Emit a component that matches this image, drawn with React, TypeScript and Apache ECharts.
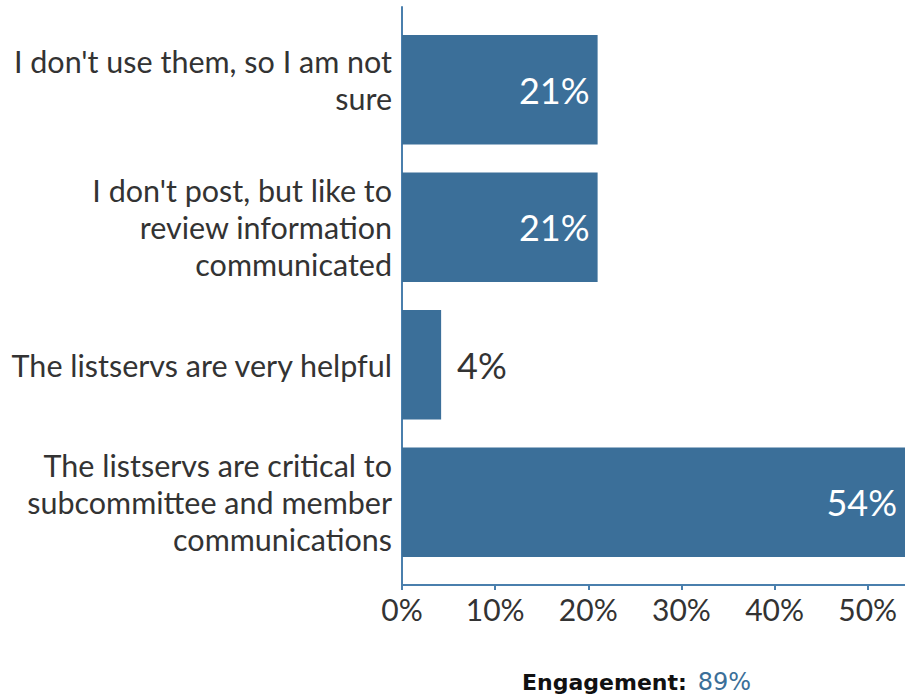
import React, { useEffect, useRef } from "react";
import * as echarts from "echarts";

const categories = [
  "I don't use them, so I am not\nsure",
  "I don't post, but like to\nreview information\ncommunicated",
  "The listservs are very helpful",
  "The listservs are critical to\nsubcommittee and member\ncommunications",
];
const values = [21, 21, 4.2, 54];
const valueLabels = ["21%", "21%", "4%", "54%"];
const tickValues = [0, 10, 20, 30, 40, 50];
const engagementLabel = "Engagement:";
const engagementValue = "89%";

const BLUE = "#3b6f99";
const AXIS = "#4a7fad";
const TEXT = "#333333";
const FONT = "Lato";

export default function App() {
  const ref = useRef<HTMLDivElement>(null);
  useEffect(() => {
    if (!ref.current) return;
    document.body.style.margin = "0";
    const chart = echarts.init(ref.current, undefined, { renderer: "svg" });
    chart.setOption({
      animation: false,
      grid: [
        { left: 402, right: 0, top: 21, bottom: 129, containLabel: false, outerBoundsMode: "none" },
        { left: 402, right: 0, top: 7, bottom: 115, containLabel: false, outerBoundsMode: "none" },
      ],
      xAxis: [
        { type: "value", gridIndex: 0, min: 0, max: 54, show: false },
        {
          type: "value",
          gridIndex: 1,
          min: 0,
          max: 54,
          interval: 10,
          axisLine: { show: true, lineStyle: { color: AXIS, width: 2 } },
          axisTick: { show: true, customValues: tickValues, length: 5, lineStyle: { color: AXIS, width: 2 } },
          axisLabel: {
            customValues: tickValues,
            formatter: (v: number) => `${v}%`,
            color: TEXT,
            fontFamily: FONT,
            fontSize: 30,
            margin: 9,
          },
          splitLine: { show: false },
        },
      ],
      yAxis: [
        {
          type: "category",
          gridIndex: 0,
          data: categories,
          inverse: true,
          axisLine: { show: false },
          axisTick: { show: false },
          axisLabel: {
            color: TEXT,
            fontFamily: FONT,
            fontSize: 30.5,
            lineHeight: 37,
            margin: 10,
            align: "right",
            formatter: (v: string, i: number) => (i === 0 ? `${v}\n{s| }` : v),
            rich: { s: { lineHeight: 20, fontSize: 10 } },
          },
        },
        {
          type: "value",
          gridIndex: 1,
          min: 0,
          max: 1,
          axisLine: { show: true, lineStyle: { color: AXIS, width: 2 } },
          axisTick: { show: false },
          axisLabel: { show: false },
          splitLine: { show: false },
        },
      ],
      series: [
        {
          type: "bar",
          xAxisIndex: 0,
          yAxisIndex: 0,
          data: values.map((v) => ({
            value: v,
            label:
              v < 10
                ? { position: "right", color: TEXT, distance: 16 }
                : { position: "insideRight", color: "#ffffff", distance: 8 },
          })),
          barCategoryGap: "20.4%",
          itemStyle: { color: BLUE },
          label: {
            show: true,
            fontFamily: FONT,
            fontSize: 36,
            formatter: (p: any) => valueLabels[p.dataIndex],
          },
        },
      ],
      graphic: [
        {
          type: "text",
          left: 522,
          top: 670,
          style: {
            text: `{b|${engagementLabel}}{v|${engagementValue}}`,
            rich: {
              b: { fontFamily: "DejaVu Sans", fontWeight: "bold", fontSize: 22, fill: "#111111", padding: [0, 11, 0, 0] },
              v: { fontFamily: "DejaVu Sans", fontSize: 24, fill: BLUE },
            },
          },
        },
      ],
    });
    return () => chart.dispose();
  }, []);
  return <div ref={ref} style={{ width: 905, height: 700 }} />;
}
